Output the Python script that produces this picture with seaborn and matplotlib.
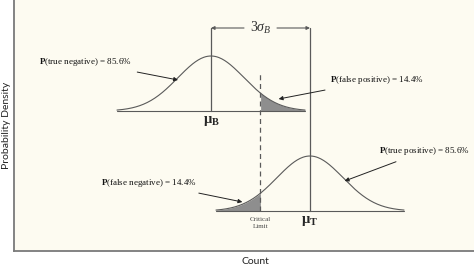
import numpy as np
import pandas as pd
import matplotlib
matplotlib.use("Agg")
import matplotlib.pyplot as plt
import seaborn as sns

# ---- data ----
group_names = ["Background", "Target"]
means = [0.0, 3.0]          # mu_B, mu_T (in sigma_B units)
sigma = 1.0
critical_limit = 1.5
baselines = [140, 40]       # vertical offset of each curve
peak_height = 55
prob_labels = ["P(true negative) = 85.6%", "P(false positive) = 14.4%",
               "P(false negative) = 14.4%", "P(true positive) = 85.6%"]
mean_labels = [r"$\mathbf{\mu_B}$", r"$\mathbf{\mu_T}$"]

sns.set_theme(style="white")
plt.rcParams["mathtext.fontset"] = "custom"
plt.rcParams["mathtext.rm"] = "Liberation Serif"
plt.rcParams["mathtext.bf"] = "Liberation Serif:bold"
plt.rcParams["mathtext.it"] = "Liberation Serif:italic"

# build curve table
rows = []
zs = np.linspace(-2.85, 2.85, 200)
for name, m, b in zip(group_names, means, baselines):
    for z in zs:
        rows.append({"group": name, "x": m + z * sigma,
                     "y": b + peak_height * np.exp(-0.5 * z ** 2), "base": b})
df = pd.DataFrame(rows)

fig = plt.figure(figsize=(4.74, 2.67), dpi=100)
fig.patch.set_facecolor("white")
ax = fig.add_axes([14 / 474, 16 / 267, 460 / 474, 251 / 267])
ax.set_facecolor("#fdfbf1")

lc = "#5a5a5a"
sns.lineplot(data=df, x="x", y="y", hue="group", palette=[lc, lc],
             legend=False, ax=ax, linewidth=0.8)

for name, m, b in zip(group_names, means, baselines):
    d = df[df.group == name]
    ax.plot([d.x.min(), d.x.max()], [b, b], color=lc, lw=0.8)

# shaded tails
d = df[df.group == "Background"]
msk = d.x >= critical_limit
ax.fill_between(d.x[msk], d.y[msk], baselines[0], color="#8e8e8e", lw=0)
d = df[df.group == "Target"]
msk = d.x <= critical_limit
ax.fill_between(d.x[msk], d.y[msk], baselines[1], color="#8e8e8e", lw=0)

# mean lines
bracket_y = 223
ax.plot([means[0], means[0]], [baselines[0], bracket_y], color=lc, lw=0.9)
ax.plot([means[1], means[1]], [baselines[1], bracket_y], color=lc, lw=0.9)
# critical limit
ax.plot([critical_limit, critical_limit], [baselines[1], 179], color=lc,
        lw=0.9, ls=(0, (4, 3)))

# 3 sigma bracket
mid = (means[0] + means[1]) / 2
ax.annotate("", xy=(means[0], bracket_y), xytext=(mid - 0.5, bracket_y),
            arrowprops=dict(arrowstyle="-|>", color=lc, lw=0.8,
                            mutation_scale=5, shrinkA=0, shrinkB=0))
ax.annotate("", xy=(means[1], bracket_y), xytext=(mid + 0.5, bracket_y),
            arrowprops=dict(arrowstyle="-|>", color=lc, lw=0.8,
                            mutation_scale=5, shrinkA=0, shrinkB=0))
ax.text(mid, bracket_y, r"$3\sigma_B$", ha="center", va="center",
        fontsize=10, color="#333333")

# mean labels
ax.text(means[0], 130, mean_labels[0], ha="center", va="center", fontsize=10.5)
ax.text(means[1], 30, mean_labels[1], ha="center", va="center", fontsize=10.5)
ax.text(critical_limit, 28, "Critical\nLimit", ha="center", va="center",
        fontsize=5, family="Liberation Serif", color="#444444",
        linespacing=1.5)

def plab(s):
    return r"$\mathbf{P}$" + s[1:]

arrow = dict(arrowstyle="-|>", color="#222222", lw=0.7, mutation_scale=6,
             shrinkA=3, shrinkB=0)
tfont = dict(fontsize=6.5, family="Liberation Serif", va="center",
             color="#111111")
ax.annotate(plab(prob_labels[0]), xy=(-1.0, 171), xytext=(-2.4, 189),
            ha="right", arrowprops=arrow, **tfont)
ax.annotate(plab(prob_labels[1]), xy=(2.05, 152), xytext=(3.62, 171),
            ha="left", arrowprops=arrow, **tfont)
ax.annotate(plab(prob_labels[2]), xy=(0.95, 49), xytext=(-0.42, 68),
            ha="right", arrowprops=arrow, **tfont)
ax.annotate(plab(prob_labels[3]), xy=(4.05, 70), xytext=(5.1, 100),
            ha="left", arrowprops=arrow, **tfont)

ax.set_xlim(-5.97, 7.97)
ax.set_ylim(0, 251)
ax.set_xticks([])
ax.set_yticks([])
for s in ["top", "right"]:
    ax.spines[s].set_visible(False)
for s in ["left", "bottom"]:
    ax.spines[s].set_color("#7a7a7a")
    ax.spines[s].set_linewidth(1.3)

ax.set_xlabel("Count", fontsize=7.5, family="Lato", color="#222222")
ax.set_ylabel("Probability Density", fontsize=7.5, family="Lato",
              color="#222222")
ax.xaxis.set_label_coords(0.525, -0.022)
ax.yaxis.set_label_coords(-0.006, 0.5)

fig.savefig("out.png", dpi=100)
